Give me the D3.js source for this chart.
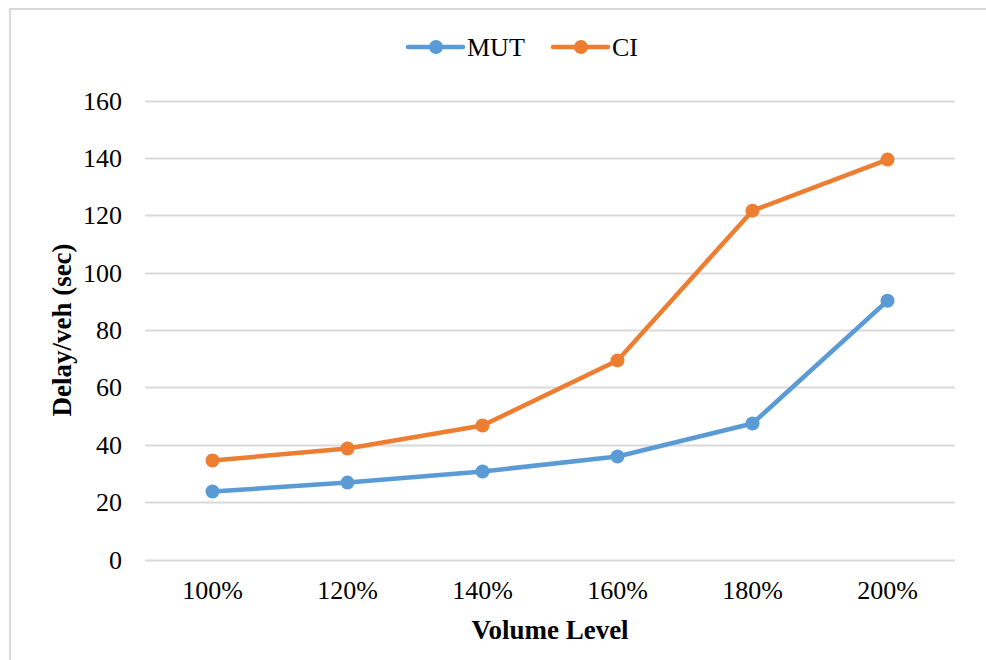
<!DOCTYPE html>
<html>
<head>
<meta charset="utf-8">
<script src="https://cdn.jsdelivr.net/npm/d3@7"></script>
<style>
  html, body { margin: 0; padding: 0; background: #fff; }
  svg { display: block; }
</style>
</head>
<body>
<svg id="chart" width="986" height="660"></svg>
<script>
const categories = ["100%", "120%", "140%", "160%", "180%", "200%"];
const mutValues = [23.7, 26.8, 30.7, 35.9, 47.4, 90.2];
const ciValues = [34.5, 38.7, 46.7, 69.4, 121.6, 139.4];
const yTicks = [0, 20, 40, 60, 80, 100, 120, 140, 160];
const seriesNames = ["MUT", "CI"];
const seriesColors = ["#5b9bd5", "#ed7d31"];

const series = [
  { name: seriesNames[0], color: seriesColors[0], values: mutValues },
  { name: seriesNames[1], color: seriesColors[1], values: ciValues }
];

const svg = d3.select("#chart");
const W = 986, H = 660;
const font = "'Liberation Serif', 'Times New Roman', serif";

// outer border
svg.append("rect")
  .attr("x", 10).attr("y", 9)
  .attr("width", W + 10).attr("height", H + 10)
  .attr("fill", "none").attr("stroke", "#d9d9d9").attr("stroke-width", 2);

const plot = { left: 145, right: 955, top: 100.5, bottom: 559.5 };

const x = d3.scaleBand().domain(categories).range([plot.left, plot.right]);
const y = d3.scaleLinear().domain([0, 160]).range([plot.bottom, plot.top]);

// gridlines
svg.append("g").selectAll("line").data(yTicks).join("line")
  .attr("x1", plot.left).attr("x2", plot.right)
  .attr("y1", d => Math.round(y(d)) + 0.5).attr("y2", d => Math.round(y(d)) + 0.5)
  .attr("stroke", "#d9d9d9").attr("stroke-width", 2);

// y axis labels
const yAxis = d3.axisLeft(y).tickValues(yTicks).tickSize(0).tickPadding(0);
const gy = svg.append("g").attr("transform", `translate(${plot.left - 23},0)`).call(yAxis);
gy.select(".domain").remove();
gy.selectAll("text")
  .attr("font-family", font).attr("font-size", 26).attr("fill", "#000")
  .attr("dy", "0.33em");

// x axis labels
const xAxis = d3.axisBottom(x).tickSize(0).tickPadding(0);
const gx = svg.append("g").attr("transform", `translate(0,${plot.bottom + 21})`).call(xAxis);
gx.select(".domain").remove();
gx.selectAll("text")
  .attr("font-family", font).attr("font-size", 26).attr("fill", "#000")
  .attr("dy", "0.71em");

// axis titles
svg.append("text")
  .attr("x", (plot.left + plot.right) / 2).attr("y", 639)
  .attr("text-anchor", "middle")
  .attr("font-family", font).attr("font-size", 27).attr("font-weight", "bold")
  .text("Volume Level");

svg.append("text")
  .attr("transform", `translate(71,${(plot.top + plot.bottom) / 2}) rotate(-90)`)
  .attr("text-anchor", "middle")
  .attr("font-family", font).attr("font-size", 27).attr("font-weight", "bold")
  .text("Delay/veh (sec)");

// lines
const line = d3.line()
  .x((d, i) => x(categories[i]) + x.bandwidth() / 2)
  .y(d => y(d));

series.forEach(s => {
  svg.append("path")
    .datum(s.values)
    .attr("d", line)
    .attr("fill", "none")
    .attr("stroke", s.color)
    .attr("stroke-width", 4.5)
    .attr("stroke-linejoin", "round")
    .attr("stroke-linecap", "round");
  svg.append("g").selectAll("circle").data(s.values).join("circle")
    .attr("cx", (d, i) => x(categories[i]) + x.bandwidth() / 2)
    .attr("cy", d => y(d))
    .attr("r", 7)
    .attr("fill", s.color);
});

// legend
const legendItems = [
  { name: seriesNames[0], color: seriesColors[0], x0: 408 },
  { name: seriesNames[1], color: seriesColors[1], x0: 553 }
];
const ly = 47;
legendItems.forEach(it => {
  svg.append("line")
    .attr("x1", it.x0).attr("x2", it.x0 + 55)
    .attr("y1", ly).attr("y2", ly)
    .attr("stroke", it.color).attr("stroke-width", 4.5)
    .attr("stroke-linecap", "round");
  svg.append("circle")
    .attr("cx", it.x0 + 28).attr("cy", ly).attr("r", 7)
    .attr("fill", it.color);
  svg.append("text")
    .attr("x", it.x0 + 59).attr("y", ly)
    .attr("dy", "0.35em")
    .attr("font-family", font).attr("font-size", 26).attr("fill", "#000")
    .text(it.name);
});
</script>
</body>
</html>
